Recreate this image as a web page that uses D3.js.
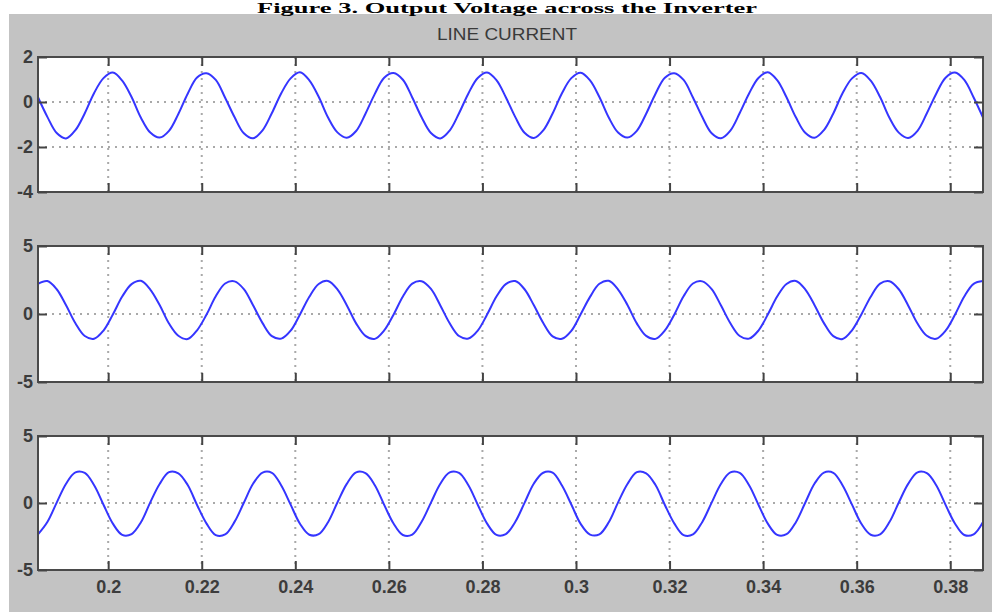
<!DOCTYPE html>
<html>
<head>
<meta charset="utf-8">
<script src="https://cdn.jsdelivr.net/npm/d3@7"></script>
<style>
  body { margin: 0; background: #fff; }
  svg { display: block; }
</style>
</head>
<body>
<div id="chart"></div>
<script>
// sampling grid of the scope traces (seconds)
const t0 = 0.185;
const dt = 0.002;

const xTicks = [0.2, 0.22, 0.24, 0.26, 0.28, 0.3, 0.32, 0.34, 0.36, 0.38];
const yTicks1 = [-4, -2, 0, 2];
const yTicks2 = [-5, 0, 5];
const yTicks3 = [-5, 0, 5];

// values
const phaseA = [
  0.21,-0.66,-1.38,-1.62,-1.25,-0.50,0.40,1.06,1.31,0.95,
  0.22,-0.70,-1.36,-1.58,-1.28,-0.53,0.37,1.09,1.28,0.98,
  0.19,-0.67,-1.39,-1.61,-1.26,-0.49,0.39,1.05,1.32,0.96,
  0.23,-0.69,-1.35,-1.59,-1.29,-0.52,0.36,1.08,1.29,0.99,
  0.20,-0.68,-1.38,-1.62,-1.27,-0.50,0.38,1.07,1.31,0.97,
  0.21,-0.66,-1.37,-1.60,-1.26,-0.51,0.39,1.06,1.30,0.96,
  0.22,-0.69,-1.36,-1.58,-1.28,-0.52,0.37,1.08,1.28,0.98,
  0.20,-0.67,-1.39,-1.61,-1.27,-0.49,0.38,1.07,1.32,0.97,
  0.21,-0.68,-1.37,-1.59,-1.25,-0.51,0.40,1.05,1.29,0.95,
  0.22,-0.70,-1.36,-1.60,-1.28,-0.50,0.37,1.08,1.31,0.98,
  0.20,-0.69
];
const phaseB = [
  2.22,2.42,1.82,0.64,-0.68,-1.62,-1.82,-1.22,-0.04,1.28,
  2.20,2.44,1.80,0.66,-0.70,-1.60,-1.84,-1.20,-0.06,1.30,
  2.24,2.40,1.83,0.62,-0.67,-1.63,-1.81,-1.23,-0.03,1.27,
  2.21,2.43,1.81,0.65,-0.69,-1.61,-1.83,-1.21,-0.05,1.29,
  2.23,2.41,1.84,0.63,-0.68,-1.62,-1.80,-1.22,-0.04,1.28,
  2.20,2.42,1.82,0.64,-0.66,-1.64,-1.82,-1.24,-0.02,1.26,
  2.22,2.44,1.80,0.66,-0.69,-1.61,-1.83,-1.21,-0.05,1.30,
  2.24,2.40,1.83,0.62,-0.68,-1.62,-1.81,-1.22,-0.04,1.28,
  2.21,2.43,1.81,0.65,-0.67,-1.63,-1.84,-1.20,-0.03,1.27,
  2.23,2.41,1.82,0.63,-0.70,-1.60,-1.82,-1.23,-0.06,1.29,
  2.22,2.42
];
const phaseC = [
  -2.34,-1.42,0.03,1.44,2.28,2.24,1.32,-0.13,-1.54,-2.38,
  -2.32,-1.44,0.05,1.42,2.30,2.22,1.34,-0.15,-1.52,-2.40,
  -2.35,-1.41,0.02,1.45,2.27,2.25,1.31,-0.12,-1.55,-2.37,
  -2.33,-1.43,0.04,1.43,2.29,2.23,1.33,-0.14,-1.53,-2.39,
  -2.36,-1.40,0.03,1.44,2.28,2.24,1.32,-0.13,-1.54,-2.38,
  -2.32,-1.42,0.01,1.46,2.26,2.26,1.30,-0.11,-1.56,-2.36,
  -2.34,-1.44,0.05,1.42,2.30,2.22,1.34,-0.15,-1.52,-2.40,
  -2.35,-1.41,0.03,1.44,2.28,2.24,1.32,-0.13,-1.54,-2.38,
  -2.33,-1.43,0.02,1.45,2.27,2.25,1.31,-0.12,-1.55,-2.37,
  -2.34,-1.42,0.04,1.43,2.29,2.23,1.33,-0.14,-1.53,-2.39,
  -2.34,-1.42
];

const W = 992, H = 612;
const PLOT = { LEFT: 38, RIGHT: 983 };
const panels = [
  { values: phaseA, domain: [-4, 2], ticks: yTicks1, top: 57, bottom: 192 },
  { values: phaseB, domain: [-5, 5], ticks: yTicks2, top: 246, bottom: 382 },
  { values: phaseC, domain: [-5, 5], ticks: yTicks3, top: 436, bottom: 570 }
];

const svg = d3.select("#chart").append("svg")
  .attr("width", W)
  .attr("height", H);

// figure window background
svg.append("rect")
  .attr("x", 9).attr("y", 14)
  .attr("width", W - 9).attr("height", H - 14)
  .attr("fill", "#c3c3c3");

svg.append("text")
  .attr("x", 507)
  .attr("y", 40)
  .attr("text-anchor", "middle")
  .attr("font-family", "'Liberation Sans', Arial, sans-serif")
  .attr("font-size", 17)
  .attr("textLength", 140)
  .attr("lengthAdjust", "spacingAndGlyphs")
  .attr("fill", "#3a3a3a")
  .text("LINE CURRENT");

const x = d3.scaleLinear()
  .domain([0.185, 0.387])
  .range([PLOT.LEFT, PLOT.RIGHT]);

const defs = svg.append("defs");

panels.forEach(function(p, k) {
  const y = d3.scaleLinear().domain(p.domain).range([p.bottom, p.top]);
  const g = svg.append("g");

  g.append("rect")
    .attr("x", PLOT.LEFT).attr("y", p.top)
    .attr("width", PLOT.RIGHT - PLOT.LEFT)
    .attr("height", p.bottom - p.top)
    .attr("fill", "#fff");

  // dotted grid
  g.selectAll(".vgrid")
    .data(xTicks)
    .enter().append("line")
    .attr("x1", d => x(d)).attr("x2", d => x(d))
    .attr("y1", p.top).attr("y2", p.bottom)
    .attr("stroke", "#a9a9a9")
    .attr("stroke-width", 2)
    .attr("stroke-dasharray", "2,5");
  g.selectAll(".hgrid")
    .data(p.ticks)
    .enter().append("line")
    .attr("x1", PLOT.LEFT).attr("x2", PLOT.RIGHT)
    .attr("y1", d => y(d)).attr("y2", d => y(d))
    .attr("stroke", "#a9a9a9")
    .attr("stroke-width", 2)
    .attr("stroke-dasharray", "2,5");

  // trace
  defs.append("clipPath")
    .attr("id", "clip" + k)
    .append("rect")
    .attr("x", PLOT.LEFT).attr("y", p.top)
    .attr("width", PLOT.RIGHT - PLOT.LEFT)
    .attr("height", p.bottom - p.top);

  const line = d3.line()
    .x((d, i) => x(t0 + i * dt))
    .y(d => y(d))
    .curve(d3.curveCatmullRom);

  g.append("path")
    .datum(p.values)
    .attr("clip-path", "url(#clip" + k + ")")
    .attr("d", line)
    .attr("fill", "none")
    .attr("stroke", "#3535ff")
    .attr("stroke-width", 2);

  // inward ticks on all four sides
  const tickStyle = function(sel, showLabels) {
    sel.select(".domain").remove();
    sel.selectAll(".tick line").attr("stroke", "#444").attr("stroke-width", 2);
    sel.selectAll(".tick text")
      .attr("fill", "#3c3c3c")
      .attr("font-family", "'Liberation Sans', Arial, sans-serif")
      .attr("font-weight", "bold")
      .attr("font-size", 18);
    if (!showLabels) sel.selectAll(".tick text").remove();
  };

  svg.append("g")
    .attr("transform", "translate(0," + p.bottom + ")")
    .call(d3.axisBottom(x).tickValues(xTicks).tickSize(-9).tickPadding(10)
      .tickFormat(d => String(d)))
    .call(tickStyle, k === 2);
  svg.append("g")
    .attr("transform", "translate(0," + p.top + ")")
    .call(d3.axisTop(x).tickValues(xTicks).tickSize(-9))
    .call(tickStyle, false);
  svg.append("g")
    .attr("transform", "translate(" + PLOT.LEFT + ",0)")
    .call(d3.axisLeft(y).tickValues(p.ticks).tickSize(-9).tickPadding(5)
      .tickFormat(d => String(d)))
    .call(tickStyle, true);
  svg.append("g")
    .attr("transform", "translate(" + PLOT.RIGHT + ",0)")
    .call(d3.axisRight(y).tickValues(p.ticks).tickSize(-9))
    .call(tickStyle, false);

  // axes box
  g.append("rect")
    .attr("x", PLOT.LEFT).attr("y", p.top)
    .attr("width", PLOT.RIGHT - PLOT.LEFT)
    .attr("height", p.bottom - p.top)
    .attr("fill", "none")
    .attr("stroke", "#4a4a4a")
    .attr("stroke-width", 2);
});

// caption of the page, just above the figure
svg.append("text")
  .attr("x", 507)
  .attr("y", 13)
  .attr("text-anchor", "middle")
  .attr("font-family", "'Liberation Serif', 'Times New Roman', serif")
  .attr("font-weight", "bold")
  .attr("font-size", 14)
  .attr("textLength", 500)
  .attr("lengthAdjust", "spacingAndGlyphs")
  .attr("fill", "#000")
  .text("Figure 3. Output Voltage across the Inverter");
</script>
</body>
</html>
